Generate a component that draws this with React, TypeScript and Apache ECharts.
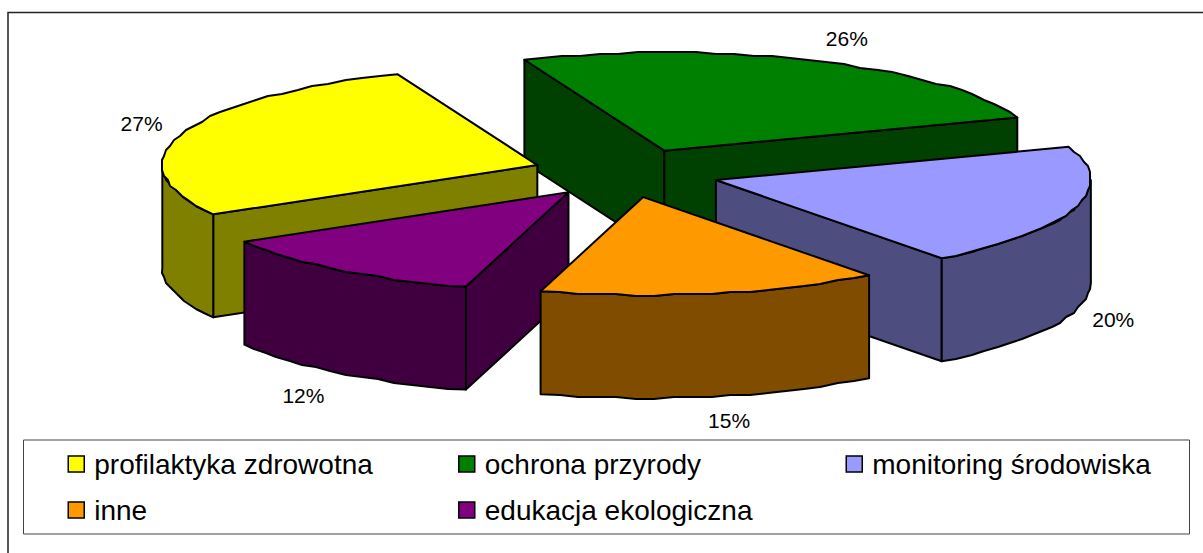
import React, { useEffect, useRef } from "react";
import * as echarts from "echarts";

const categories = ["profilaktyka zdrowotna", "ochrona przyrody", "monitoring środowiska", "inne", "edukacja ekologiczna"];
const values = [27.3, 25.6, 20.2, 14.7, 12.2];
const topColors = ["#FFFF00", "#008000", "#9999FF", "#FF9900", "#800080"];
const sideColors = ["#808000", "#004000", "#4D4D80", "#804D00", "#400040"];
const legendColumns = [[0, 3], [1, 4], [2]];
const legendLefts = [67.5, 458, 845.5];
const labelOffsets = [[-41, -10], [29, -23], [38, 112], [17, 127], [-35, 126]];

const CX = 626, CY = 173, RX = 375, RY = 98, DEPTH = 103, EXPLODE = 0.25, START = 239.8;

const total = values.reduce((a, b) => a + b, 0);

function sliceGeom(i: number) {
  const before = values.slice(0, i).reduce((a, b) => a + b, 0);
  const a0 = START + (before / total) * 360;
  const a1 = a0 + (values[i] / total) * 360;
  const mid = ((a0 + a1) / 2) * Math.PI / 180;
  const tip = [CX + EXPLODE * RX * Math.sin(mid), CY - EXPLODE * RY * Math.cos(mid)];
  const at = (deg: number) => {
    const r = deg * Math.PI / 180;
    return [tip[0] + RX * Math.sin(r), tip[1] - RY * Math.cos(r)];
  };
  return { a0, a1, mid, tip, at };
}

const snap = (p: number[]) => [Math.round(p[0] / 2) * 2, Math.round(p[1] / 2) * 2];

function arcPoints(at: (d: number) => number[], from: number, to: number) {
  const n = Math.max(2, Math.ceil((to - from) / 3));
  const pts: number[][] = [];
  for (let k = 0; k <= n; k++) {
    const p = at(from + ((to - from) * k) / n);
    pts.push(k === 0 || k === n ? p : snap(p));
  }
  return pts;
}

const down = (p: number[]) => [p[0], p[1] + DEPTH];
const lineStyle = { stroke: "#000", lineWidth: 2, lineJoin: "round" as const };

function renderSlice(params: any, api: any) {
  const i = params.seriesIndex;
  api.value(0);
  const g = sliceGeom(i);
  const top = arcPoints(g.at, g.a0, g.a1);
  const p0 = top[0];
  const p1 = top[top.length - 1];
  const children: any[] = [];
  const wall = (pts: number[][]) =>
    children.push({
      type: "polygon",
      shape: { points: pts },
      style: { fill: sideColors[i], ...lineStyle },
    });
  if (p0[0] < g.tip[0]) wall([g.tip, p0, down(p0), down(g.tip)]);
  if (p1[0] > g.tip[0]) wall([g.tip, p1, down(p1), down(g.tip)]);
  // visible part of the outer rim: the lower half of the ellipse
  for (const [lo, hi] of [[90, 270], [450, 630]]) {
    const from = Math.max(g.a0, lo);
    const to = Math.min(g.a1, hi);
    if (to > from) {
      const rim = arcPoints(g.at, from, to);
      wall([...rim, ...rim.map(down).reverse()]);
    }
  }
  children.push({
    type: "polygon",
    shape: { points: [g.tip, ...top] },
    style: { fill: topColors[i], ...lineStyle },
  });
  return { type: "group", children };
}

function sliceDepthOrder(i: number) {
  return Math.round(sliceGeom(i).tip[1]);
}

function labelAnchor(i: number) {
  const g = sliceGeom(i);
  return g.at((g.a0 + g.a1) / 2);
}

export default function App() {
  const ref = useRef<HTMLDivElement>(null);
  useEffect(() => {
    const chart = echarts.init(ref.current!, undefined, { renderer: "svg" });
    const textStyle = {
      fontFamily: "Liberation Sans",
      fontSize: 28,
      color: "#000",
      lineHeight: 32,
      padding: [0, 0, 0, 5],
    };
    chart.setOption({
      animation: false,
      backgroundColor: "#fff",
      legend: legendColumns.map((col, c) => ({
        orient: "vertical",
        left: legendLefts[c],
        top: 448,
        padding: 0,
        itemWidth: 16,
        itemHeight: 16,
        itemGap: 14,
        icon: "rect",
        itemStyle: { borderColor: "#000", borderWidth: 1.5 },
        data: col.map((k) => categories[k]),
        textStyle,
        selectedMode: false,
      })),
      graphic: [
        {
          type: "rect",
          z: -1,
          shape: { x: 8, y: 12.5, width: 1300, height: 600 },
          style: { fill: "#fff", stroke: "#222", lineWidth: 1.5 },
        },
        {
          type: "rect",
          z: -1,
          shape: { x: 23.5, y: 440, width: 1166, height: 94 },
          style: { fill: "#fff", stroke: "#444", lineWidth: 1 },
        },
        ...values.map((v, i) => {
          const a = labelAnchor(i);
          return {
            type: "text",
            z: 500,
            x: a[0] + labelOffsets[i][0],
            y: a[1] + labelOffsets[i][1],
            style: {
              text: `${Math.round(v)}%`,
              fill: "#000",
              font: "21px 'Liberation Sans'",
              textAlign: "center",
              textVerticalAlign: "middle",
            },
          };
        }),
      ],
      series: categories.map((name, i) => ({
        type: "custom",
        name,
        coordinateSystem: "none",
        silent: true,
        z: sliceDepthOrder(i),
        itemStyle: { color: topColors[i] },
        renderItem: renderSlice,
        data: [[values[i]]],
      })),
    });
    return () => chart.dispose();
  }, []);
  return <div ref={ref} style={{ position: "absolute", left: 0, top: 0, width: 1203, height: 553 }} />;
}
